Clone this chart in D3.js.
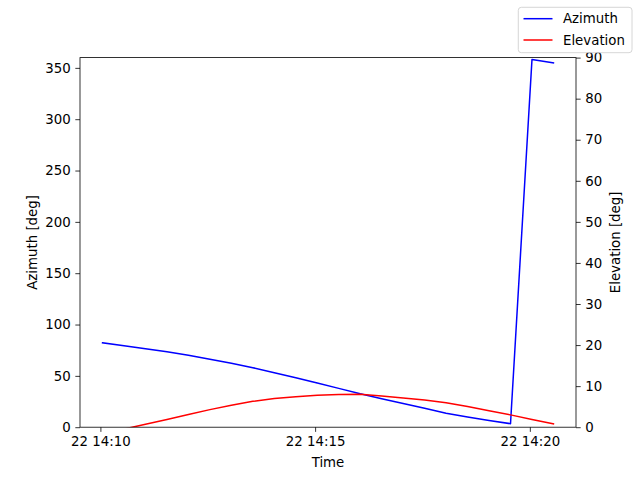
<!DOCTYPE html>
<html>
<head>
<meta charset="utf-8">
<script src="https://cdn.jsdelivr.net/npm/d3@7"></script>
<style>
  html, body { margin: 0; padding: 0; background: #fff; }
  svg { display: block; }
  text { font-family: "DejaVu Sans", sans-serif; }
</style>
</head>
<body>
<svg id="chart" width="640" height="480"></svg>
<script>
// ---- data ----
const times = [
  "2024-01-22T14:10:03Z","2024-01-22T14:10:33Z","2024-01-22T14:11:03Z","2024-01-22T14:11:33Z",
  "2024-01-22T14:12:03Z","2024-01-22T14:12:33Z","2024-01-22T14:13:03Z","2024-01-22T14:13:33Z",
  "2024-01-22T14:14:03Z","2024-01-22T14:14:33Z","2024-01-22T14:15:03Z","2024-01-22T14:15:33Z",
  "2024-01-22T14:16:03Z","2024-01-22T14:16:33Z","2024-01-22T14:17:03Z","2024-01-22T14:17:33Z",
  "2024-01-22T14:18:03Z","2024-01-22T14:18:33Z","2024-01-22T14:19:03Z","2024-01-22T14:19:33Z",
  "2024-01-22T14:20:03Z","2024-01-22T14:20:33Z"
];
const azimuth = [82.2, 79.3, 76.3, 73.4, 70.1, 66.2, 62.3, 58.0, 53.1, 48.2, 43.0, 37.8,
                 32.5, 27.8, 23.1, 18.4, 13.6, 9.9, 6.6, 3.4, 358.1, 354.9];
const elevation = [-1.7, -0.45, 0.72, 1.9, 3.1, 4.28, 5.35, 6.3, 7.0, 7.4, 7.75, 7.95,
                   8.0, 7.6, 7.14, 6.6, 5.98, 5.04, 4.0, 3.0, 1.9, 0.8];
const xTickLabels = ["2024-01-22T14:10:00Z", "2024-01-22T14:15:00Z", "2024-01-22T14:20:00Z"];
const azTicks = [0, 50, 100, 150, 200, 250, 300, 350];
const elTicks = [0, 10, 20, 30, 40, 50, 60, 70, 80, 90];
const seriesNames = ["Azimuth", "Elevation"];
const seriesColors = ["#0000ff", "#ff0000"];

// ---- layout ----
const W = 640, H = 480;
const L = 80, R = 576, T = 57.6, B = 427.2;
const svg = d3.select("#chart");
const FS = 13.33;

const dates = times.map(t => new Date(t));
const t0 = d3.min(dates), t1 = d3.max(dates);
const span = t1 - t0;
const x = d3.scaleUtc()
  .domain([new Date(+t0 - span * 0.05), new Date(+t1 + span * 0.05)])
  .range([L, R]);
const yL = d3.scaleLinear().domain([0, 360]).range([B, T]);
const yR = d3.scaleLinear().domain([0, 90]).range([B, T]);

svg.append("defs").append("clipPath").attr("id", "clip")
  .append("rect").attr("x", L).attr("y", T).attr("width", R - L).attr("height", B - T);

// lines
const azData = dates.map((d, i) => [d, azimuth[i]]);
const elData = dates.map((d, i) => [d, elevation[i]]);
const g = svg.append("g").attr("clip-path", "url(#clip)");
g.append("path").datum(azData)
  .attr("fill", "none").attr("stroke", seriesColors[0]).attr("stroke-width", 1.5)
  .attr("stroke-linejoin", "round").attr("stroke-linecap", "square")
  .attr("d", d3.line().x(d => x(d[0])).y(d => yL(d[1])));
g.append("path").datum(elData)
  .attr("fill", "none").attr("stroke", seriesColors[1]).attr("stroke-width", 1.5)
  .attr("stroke-linejoin", "round").attr("stroke-linecap", "square")
  .attr("d", d3.line().x(d => x(d[0])).y(d => yR(d[1])));

// axes
function styleAxis(sel) {
  sel.selectAll("path.domain").remove();
  sel.selectAll(".tick line").attr("stroke", "#000").attr("stroke-width", 0.8);
  sel.selectAll(".tick text").attr("fill", "#000")
    .style("font-family", "'DejaVu Sans', sans-serif").style("font-size", FS + "px");
}
const xAxis = d3.axisBottom(x)
  .tickValues(xTickLabels.map(s => new Date(s)))
  .tickFormat(d3.utcFormat("%d %H:%M"))
  .tickSize(4.67).tickPadding(4.67);
svg.append("g").attr("transform", `translate(0,${B})`).call(xAxis).call(styleAxis);

const lAxis = d3.axisLeft(yL).tickValues(azTicks).tickSize(4.67).tickPadding(4.67);
svg.append("g").attr("transform", `translate(${L},0)`).call(lAxis).call(styleAxis);

const rAxis = d3.axisRight(yR).tickValues(elTicks).tickSize(4.67).tickPadding(4.67);
svg.append("g").attr("transform", `translate(${R},0)`).call(rAxis).call(styleAxis);

// frame
svg.append("rect").attr("x", L).attr("y", T).attr("width", R - L).attr("height", B - T)
  .attr("fill", "none").attr("stroke", "#000").attr("stroke-width", 0.8);

// labels
svg.append("text").attr("x", (L + R) / 2).attr("y", 467)
  .attr("text-anchor", "middle").style("font-size", FS + "px").text("Time");
svg.append("text").attr("transform", `translate(32,${(T + B) / 2}) rotate(-90)`)
  .attr("text-anchor", "middle").attr("dominant-baseline", "central")
  .style("font-size", FS + "px").text("Azimuth [deg]");
svg.append("text").attr("transform", `translate(615,${(T + B) / 2}) rotate(-90)`)
  .attr("text-anchor", "middle").attr("dominant-baseline", "central")
  .style("font-size", FS + "px").text("Elevation [deg]");

// legend
const lg = svg.append("g");
lg.append("rect").attr("x", 518.3).attr("y", 7.3).attr("width", 113.7).attr("height", 45.4)
  .attr("rx", 3).attr("fill", "#fff").attr("fill-opacity", 0.8)
  .attr("stroke", "#cccccc").attr("stroke-width", 0.8);
seriesNames.forEach((name, i) => {
  const cy = 18.7 + i * 21.3;
  lg.append("line").attr("x1", 523.5).attr("x2", 552.5).attr("y1", cy).attr("y2", cy)
    .attr("stroke", seriesColors[i]).attr("stroke-width", 1.5);
  lg.append("text").attr("x", 563).attr("y", cy).attr("dominant-baseline", "central")
    .style("font-size", FS + "px").text(name);
});
</script>
</body>
</html>
